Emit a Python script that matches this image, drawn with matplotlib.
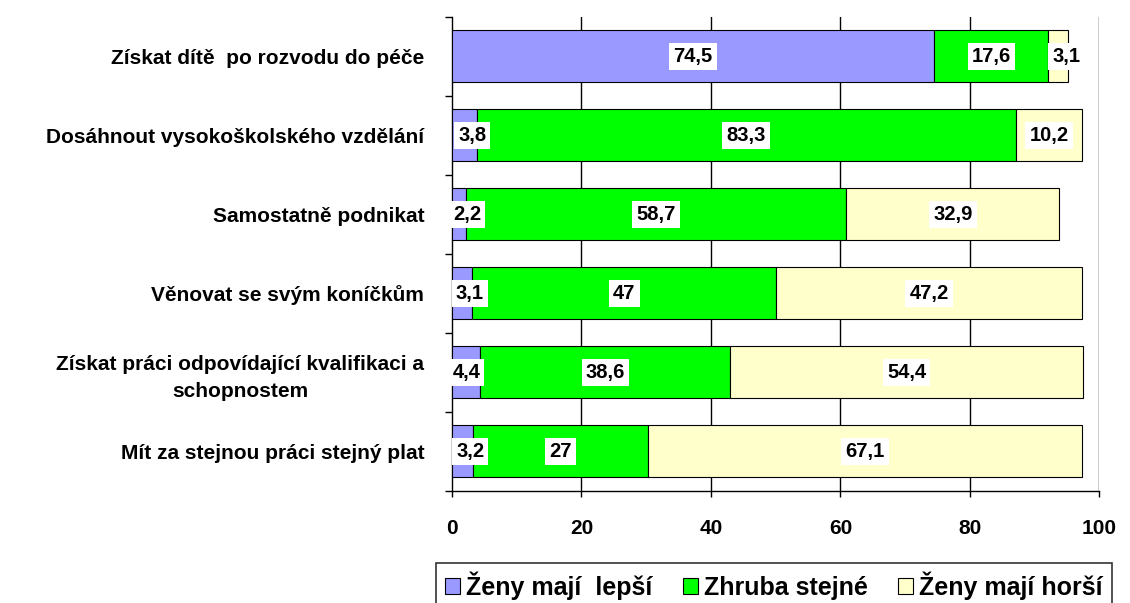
import matplotlib.pyplot as plt
import numpy as np

plt.rcParams['font.family'] = ['Liberation Sans', 'DejaVu Sans']
plt.rcParams['font.weight'] = 'bold'

categories = [
    "Získat dítě  po rozvodu do péče",
    "Dosáhnout vysokoškolského vzdělání",
    "Samostatně podnikat",
    "Věnovat se svým koníčkům",
    "Získat práci odpovídající kvalifikaci a\nschopnostem",
    "Mít za stejnou práci stejný plat",
]
lepsi = [74.5, 3.8, 2.2, 3.1, 4.4, 3.2]
stejne = [17.6, 83.3, 58.7, 47, 38.6, 27]
horsi = [3.1, 10.2, 32.9, 47.2, 54.4, 67.1]
series_names = ["Ženy mají  lepší", "Zhruba stejné", "Ženy mají horší"]
colors = ["#9999ff", "#00ff00", "#ffffcc"]

def fmt(v):
    return ("%g" % v).replace(".", ",")

fig = plt.figure(figsize=(11.3, 6.03), dpi=100)
ax = fig.add_axes([0.4, 0.186, 0.573, 0.786])

y = np.arange(len(categories))
left = np.zeros(len(categories))
for vals, name, col in zip([lepsi, stejne, horsi], series_names, colors):
    vals = np.array(vals)
    ax.barh(y, vals, left=left, height=0.66, color=col, edgecolor='black',
            linewidth=0.8, label=name, zorder=3)
    for yi, l, v in zip(y, left, vals):
        xt = l + v / 2
        if v < 4:
            xt = l + v / 2 + 1.2
        ax.text(xt, yi, fmt(v), ha='center', va='center', fontsize=14.5,
                fontweight='bold', zorder=5,
                bbox=dict(facecolor='white', edgecolor='none', pad=3))
    left = left + vals

ax.set_xlim(0, 100)
ax.set_ylim(len(categories) - 0.5, -0.5)
ax.set_xticks([0, 20, 40, 60, 80, 100])
ax.set_xticklabels(["0", "20", "40", "60", "80", "100"], fontsize=15, fontweight='bold')
ax.tick_params(axis='x', pad=16, length=4, width=1)
ax.set_yticks(y)
ax.set_yticklabels(categories, fontsize=15, fontweight='bold', multialignment='center',
                   linespacing=1.5)
ax.set_yticks(np.arange(len(categories) + 1) - 0.5, minor=True)
ax.tick_params(axis='y', which='major', length=0, pad=20)
ax.tick_params(axis='y', which='minor', length=5, width=1)

for xv in [20, 40, 60, 80, 100]:
    ax.axvline(xv, color='black', linewidth=1, zorder=1)
ax.spines['top'].set_visible(False)
ax.spines['right'].set_visible(False)
ax.spines['left'].set_linewidth(1)
ax.spines['bottom'].set_linewidth(1)

leg = fig.legend(loc='lower center', bbox_to_anchor=(0.685, -0.03), ncol=3,
                 fontsize=18, frameon=True, fancybox=False, edgecolor='black',
                 handlelength=0.6, handleheight=0.6, handletextpad=0.25,
                 columnspacing=1.2, borderpad=0.35)
leg.get_frame().set_linewidth(1.2)

fig.savefig("out.png", dpi=100)
